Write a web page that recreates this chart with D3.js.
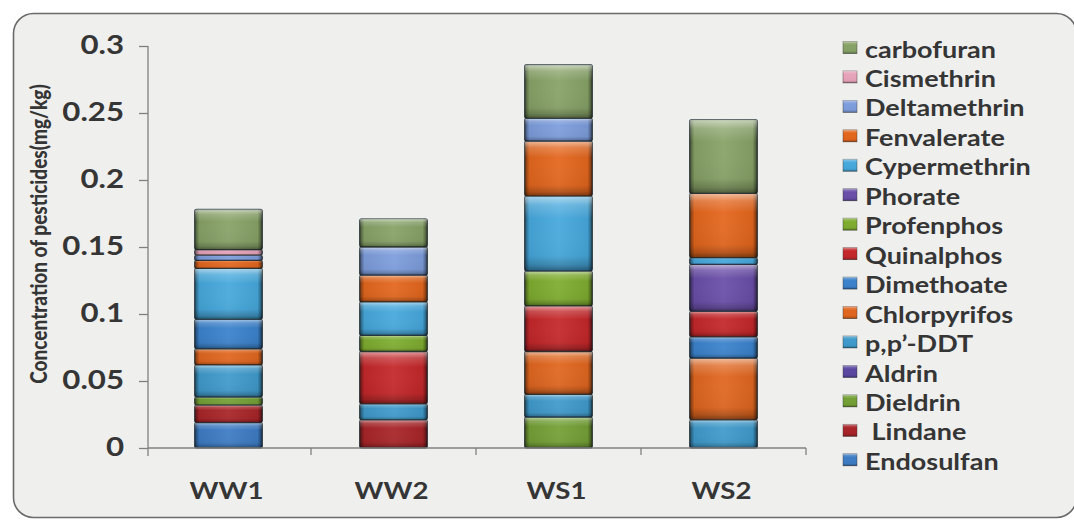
<!DOCTYPE html>
<html>
<head>
<meta charset="utf-8">
<script src="https://cdn.jsdelivr.net/npm/d3@7"></script>
<style>
  html, body { margin: 0; padding: 0; background: #ffffff; }
  svg { display: block; }
  text { font-family: Lato, "Open Sans", sans-serif; font-weight: 700; fill: #353535; }
</style>
</head>
<body>
<svg id="chart" width="1074" height="521"></svg>
<script>
// Sampling sites along the x axis
const categories = ["WW1", "WW2", "WS1", "WS2"];

// Pesticide concentrations (mg/kg) per site: WW1, WW2, WS1, WS2
const endosulfan   = [0.019, 0,     0,     0];
const lindane      = [0.013, 0.021, 0,     0];
const dieldrin     = [0.006, 0,     0.023, 0];
const aldrin       = [0,     0,     0,     0];
const ppDDT        = [0.024, 0.012, 0.017, 0.021];
const chlorpyrifos = [0.012, 0,     0.032, 0.046];
const dimethoate   = [0.022, 0,     0,     0.016];
const quinalphos   = [0,     0.039, 0.034, 0.019];
const profenphos   = [0,     0.012, 0.026, 0];
const phorate      = [0,     0,     0,     0.035];
const cypermethrin = [0.038, 0.025, 0.056, 0.005];
const fenvalerate  = [0.006, 0.020, 0.041, 0.048];
const deltamethrin = [0.004, 0.021, 0.017, 0];
const cismethrin   = [0.004, 0,     0,     0];
const carbofuran   = [0.030, 0.021, 0.040, 0.055];

// Stack order, bottom to top
const seriesNames = ["Endosulfan", "Lindane", "Dieldrin", "Aldrin", "p,p\u2019-DDT",
  "Chlorpyrifos", "Dimethoate", "Quinalphos", "Profenphos", "Phorate",
  "Cypermethrin", "Fenvalerate", "Deltamethrin", "Cismethrin", "carbofuran"];
const seriesValues = [endosulfan, lindane, dieldrin, aldrin, ppDDT,
  chlorpyrifos, dimethoate, quinalphos, profenphos, phorate,
  cypermethrin, fenvalerate, deltamethrin, cismethrin, carbofuran];
const seriesColors = ["#3d7cc4", "#a82428", "#74a036", "#5a48a0", "#3f9acb",
  "#e0661f", "#3b82cc", "#c4272a", "#7eac2f", "#6a4ea8",
  "#46a8dc", "#e3661d", "#7d9ddc", "#e6a2b9", "#87a267"];
// Legend lists series top to bottom; Lindane carries a leading space
const legendLabels = ["carbofuran", "Cismethrin", "Deltamethrin", "Fenvalerate", "Cypermethrin",
  "Phorate", "Profenphos", "Quinalphos", "Dimethoate", "Chlorpyrifos",
  "p,p\u2019-DDT", "Aldrin", "Dieldrin", " Lindane", "Endosulfan"];

const yTicks = [0, 0.05, 0.1, 0.15, 0.2, 0.25, 0.3];
const yTickLabels = ["0", "0.05", "0.1", "0.15", "0.2", "0.25", "0.3"];
const yTitle = "Concentration of pesticides(mg/kg)";

const svg = d3.select("#chart");
const SX = 1.2; // horizontal text stretch

// Rounded chart frame
svg.append("rect")
  .attr("x", 13.5).attr("y", 13.5)
  .attr("width", 1063).attr("height", 504)
  .attr("rx", 20).attr("ry", 20)
  .attr("fill", "#efefee")
  .attr("stroke", "#6a6a6a").attr("stroke-width", 1.6);

// Bevel gradients
const defs = svg.append("defs");
const gh = defs.append("linearGradient").attr("id", "bevelH")
  .attr("x1", 0).attr("x2", 1).attr("y1", 0).attr("y2", 0);
[[0, "#000", 0.5], [0.07, "#000", 0.06], [0.5, "#fff", 0.06], [0.93, "#000", 0.06], [1, "#000", 0.55]]
  .forEach(([o, c, a]) => gh.append("stop").attr("offset", o).attr("stop-color", c).attr("stop-opacity", a));
const gv = defs.append("linearGradient").attr("id", "bevelV")
  .attr("x1", 0).attr("x2", 0).attr("y1", 0).attr("y2", 1);
[[0, "#fff", 0.55], [0.12, "#fff", 0.18], [0.3, "#fff", 0], [0.8, "#000", 0.03], [0.92, "#000", 0.2], [1, "#000", 0.45]]
  .forEach(([o, c, a]) => gv.append("stop").attr("offset", o).attr("stop-color", c).attr("stop-opacity", a));

const x = d3.scaleBand().domain(categories).range([146, 806])
  .paddingInner(0.59).paddingOuter(0.295);
const y = d3.scaleLinear().domain([0, 0.3]).range([448, 46]);

// Build stacked data
const rows = categories.map((c, i) => {
  const r = { cat: c };
  seriesNames.forEach((s, k) => { r[s] = seriesValues[k][i]; });
  return r;
});
const stacked = d3.stack().keys(seriesNames)(rows);

// Bars
const layers = svg.append("g").selectAll("g").data(stacked).join("g")
  .attr("fill", (d, i) => seriesColors[i]);
const segs = layers.selectAll("g.seg")
  .data(d => d.filter(p => p[1] - p[0] > 0))
  .join("g").attr("class", "seg");
function segAttrs(sel) {
  sel.attr("x", d => x(d.data.cat))
    .attr("y", d => y(d[1]))
    .attr("width", x.bandwidth())
    .attr("height", d => y(d[0]) - y(d[1]))
    .attr("rx", 2).attr("ry", 2);
}
segs.append("rect").call(segAttrs)
  .attr("stroke", "#26323a").attr("stroke-opacity", 0.8).attr("stroke-width", 1.3);
segs.append("rect").call(segAttrs).attr("fill", "url(#bevelH)");
segs.append("rect").call(segAttrs).attr("fill", "url(#bevelV)");

// Y axis
const yAxis = svg.append("g").attr("transform", "translate(148,0)")
  .call(d3.axisLeft(y).tickValues(yTicks).tickSize(9)
    .tickFormat((d, i) => yTickLabels[i]));
yAxis.select(".domain").attr("stroke", "#808080").attr("stroke-width", 1.3)
  .attr("d", "M0," + y(0.3) + "V" + (y(0) + 8));
yAxis.selectAll(".tick line").attr("stroke", "#808080").attr("stroke-width", 1.3);
yAxis.selectAll(".tick text")
  .attr("x", null).attr("dy", null)
  .attr("text-anchor", "end")
  .attr("dominant-baseline", "central")
  .attr("transform", "translate(-24,-2) scale(" + SX + ",1)")
  .style("font-family", "Lato, sans-serif").style("font-weight", 700)
  .style("font-size", "26px").attr("fill", "#353535");

// X axis line with ticks at category boundaries
const xg = svg.append("g");
xg.append("line")
  .attr("x1", 148).attr("x2", x.range()[1])
  .attr("y1", y(0)).attr("y2", y(0))
  .attr("stroke", "#808080").attr("stroke-width", 1.3);
const bounds = categories.map((c, i) => x.range()[0] + x.step() * (i + 1));
xg.selectAll("line.tb").data(bounds).join("line").attr("class", "tb")
  .attr("x1", d => d).attr("x2", d => d)
  .attr("y1", y(0)).attr("y2", y(0) + 7)
  .attr("stroke", "#808080").attr("stroke-width", 1.3);
xg.selectAll("text").data(categories).join("text")
  .attr("text-anchor", "middle")
  .attr("transform", d => "translate(" + (x(d) + x.bandwidth() / 2 - 2) + ",499) scale(" + SX + ",1)")
  .style("font-size", "23px")
  .text(d => d);

// Y axis title
svg.append("text")
  .attr("text-anchor", "middle")
  .attr("transform", "translate(47,234) scale(" + SX + ",1) rotate(-90)")
  .style("font-size", "19px")
  .style("font-weight", 900)
  .text(yTitle);

// Legend
const legend = svg.append("g");
const legendColors = seriesColors.slice().reverse();
const li = legend.selectAll("g").data(legendLabels).join("g")
  .attr("transform", (d, i) => "translate(843," + (47.5 + i * 29.45) + ")");
li.append("rect").attr("x", 0).attr("y", -6).attr("width", 14).attr("height", 12)
  .attr("fill", (d, i) => legendColors[i])
  .attr("stroke", "#333").attr("stroke-opacity", 0.5).attr("stroke-width", 0.8);
li.append("rect").attr("x", 0).attr("y", -6).attr("width", 14).attr("height", 12)
  .attr("fill", "url(#bevelV)");
li.append("text")
  .attr("dominant-baseline", "central")
  .attr("transform", "translate(22,1) scale(" + SX + ",1)")
  .style("font-size", "22.5px")
  .style("white-space", "pre")
  .text(d => d);
</script>
</body>
</html>
